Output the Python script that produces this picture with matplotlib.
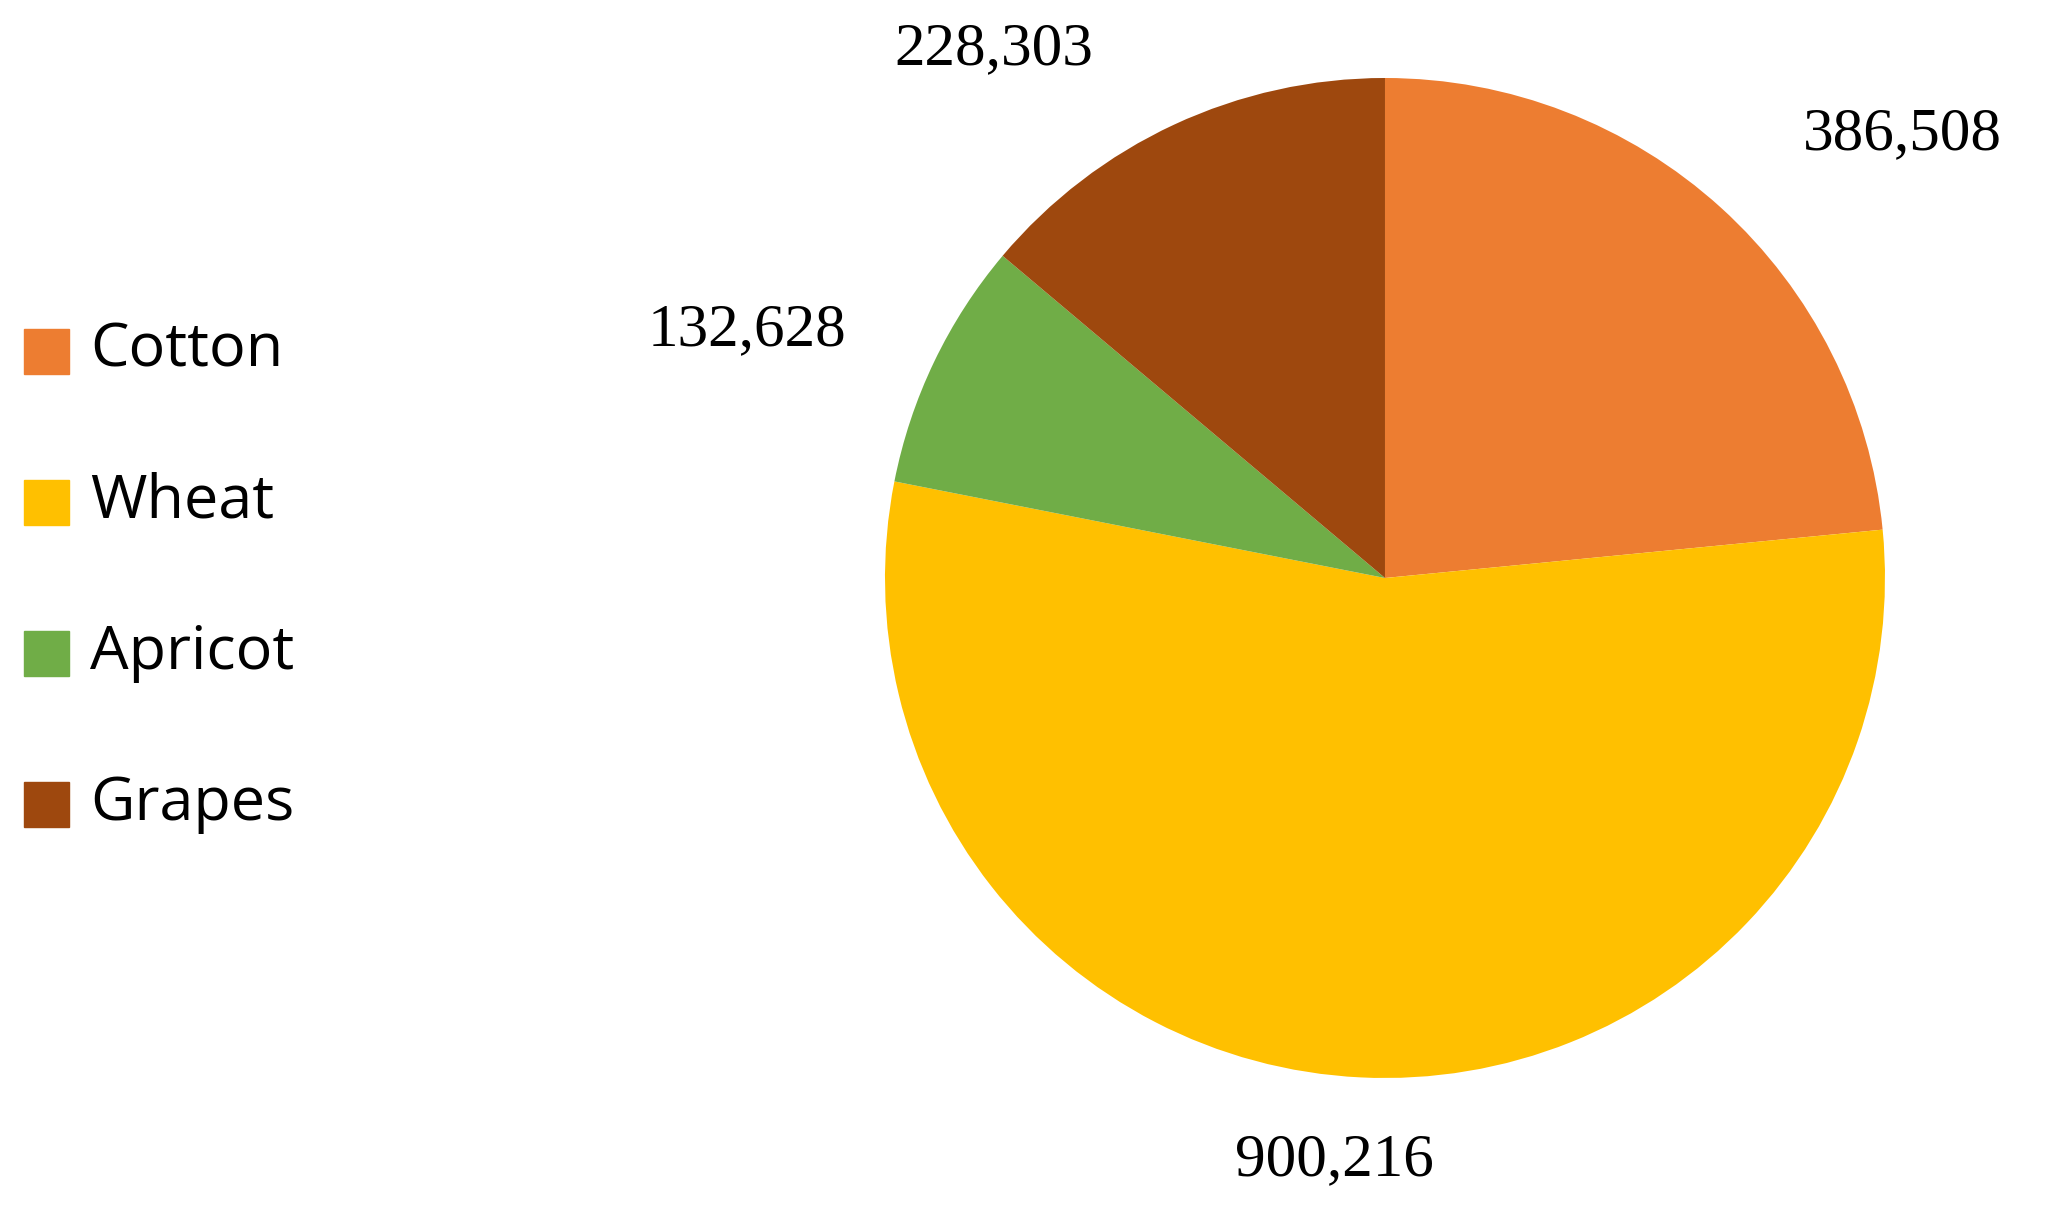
import matplotlib
matplotlib.use("Agg")
import matplotlib.pyplot as plt
from matplotlib.patches import Rectangle

categories = ["Cotton", "Wheat", "Apricot", "Grapes"]
values = [386508, 900216, 132628, 228303]
labels = ["386,508", "900,216", "132,628", "228,303"]
colors = ["#ED7D31", "#FFC000", "#70AD47", "#9E480E"]
label_pos = [(1.034, 0.887), (-0.102, -1.165), (-1.276, 0.496), (-0.782, 1.058)]

W, H = 2050, 1213
fig = plt.figure(figsize=(W/100, H/100), dpi=100)
ax = fig.add_axes([0.4317, 0.1113, 0.4878, 0.8244])
ax.pie(values, colors=colors, startangle=90, counterclock=False,
       wedgeprops=dict(linewidth=0))
ax.set_xlim(-1, 1); ax.set_ylim(-1, 1); ax.set_aspect('equal')
ax.axis('off')
for lab, (x, y) in zip(labels, label_pos):
    ax.text(x, y, lab, ha='center', va='center', fontsize=44,
            family='Liberation Serif', clip_on=False)

rows = [351, 502, 653, 804]
sq = 45
for cat, col, yc in zip(categories, colors, rows):
    fig.patches.append(Rectangle((24/W, 1-(yc+sq/2)/H), sq/W, sq/H,
                                 transform=fig.transFigure, color=col))
    fig.text(90/W, 1-yc/H, cat, fontsize=44, family='Open Sans', va='center', ha='left')

fig.savefig("out.png", dpi=100)
